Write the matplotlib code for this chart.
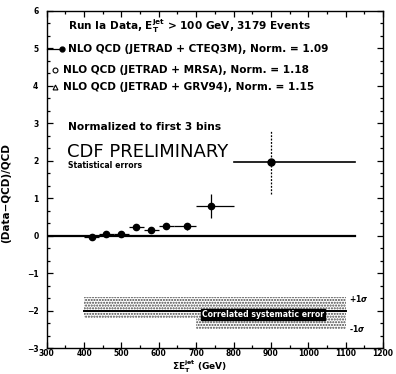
import matplotlib
matplotlib.use("Agg")
from matplotlib import pyplot as plt
from matplotlib.ticker import MultipleLocator, AutoMinorLocator

# measured ratio (Data-QCD)/QCD per sum-Et bin
et_center = [420, 460, 500, 540, 580, 620, 675, 740, 900]
bin_lo = [400, 440, 480, 520, 560, 600, 640, 700, 800]
bin_hi = [440, 480, 520, 560, 600, 640, 700, 800, 1125]
ratio = [-0.03, 0.05, 0.03, 0.22, 0.16, 0.25, 0.25, 0.79, 1.97]
stat_err = [0.05, 0.05, 0.05, 0.06, 0.07, 0.08, 0.10, 0.32, 0.85]

# correlated systematic band, drawn around -2
syst_x = [400, 700, 700, 1100]
syst_up = [0.35, 0.35, 0.35, 0.35]
syst_dn = [0.21, 0.21, 0.48, 0.48]
syst_center = -2.0

legend_lines = [
    "NLO QCD (JETRAD + CTEQ3M), Norm. = 1.09",
    "NLO QCD (JETRAD + MRSA), Norm. = 1.18",
    "NLO QCD (JETRAD + GRV94), Norm. = 1.15",
]

plt.rcParams['font.family'] = ['DejaVu Sans']
plt.rcParams['font.weight'] = 'bold'

fig = plt.figure(figsize=(3.96, 3.74), dpi=100)
ax = fig.add_axes([0.118, 0.0695, 0.849, 0.9015])

ax.set_xlim(300, 1200)
ax.set_ylim(-3, 6)

# reference line at zero
ax.plot([300, 1125], [0, 0], color='black', lw=1.6, zorder=2)

# points with bin widths and statistical errors
xerr = [[c - lo for c, lo in zip(et_center, bin_lo)],
        [hi - c for c, hi in zip(et_center, bin_hi)]]
ax.errorbar(et_center[:-1], ratio[:-1],
            xerr=[xerr[0][:-1], xerr[1][:-1]], yerr=stat_err[:-1],
            fmt='o', color='black', ms=4.5, elinewidth=0.9, capsize=0, zorder=3)
# last bin: wide horizontal bar, dotted vertical error
ax.plot([bin_lo[-1], bin_hi[-1]], [ratio[-1], ratio[-1]], color='black', lw=1.2)
ax.plot([et_center[-1], et_center[-1]],
        [ratio[-1] - stat_err[-1], ratio[-1] + stat_err[-1]],
        color='black', lw=0.9, ls=(0, (1.5, 1.2)))
ax.plot(et_center[-1], ratio[-1], 'o', color='black', ms=5, zorder=4)

# systematic band
lower = [syst_center - d for d in syst_dn]
upper = [syst_center + u for u in syst_up]
ax.fill_between(syst_x, lower, upper, facecolor='none', edgecolor='#444444',
                hatch='......', linewidth=0, zorder=1)
ax.plot([400, 1100], [syst_center, syst_center], color='black', lw=1.4, zorder=2)
ax.text(878, -2.1, "Correlated systematic error", color='white', fontsize=5.6,
        ha='center', va='center', fontweight='bold',
        bbox=dict(facecolor='black', edgecolor='black', pad=0.6), zorder=3)
ax.text(1108, -1.68, r"+1$\sigma$", fontsize=5.5, ha='left', va='center')
ax.text(1108, -2.48, r"-1$\sigma$", fontsize=5.5, ha='left', va='center')

# header texts
ax.text(357, 5.6, r"Run Ia Data, $\mathbf{E_T^{jet}}$ > 100 GeV, 3179 Events",
        fontsize=7.6, ha='left', va='center')
ax.plot([300, 341], [4.98, 4.98], color='black', lw=0.9, clip_on=False)
ax.plot(341, 4.98, 'o', color='black', ms=3.5)
ax.plot(322, 4.42, 'o', mfc='white', mec='black', ms=3.5, mew=0.8)
ax.plot(322, 3.98, '^', mfc='white', mec='black', ms=3.5, mew=0.8)
ax.text(357, 4.98, legend_lines[0], fontsize=7.6, ha='left', va='center')
ax.text(344, 4.42, legend_lines[1], fontsize=7.6, ha='left', va='center')
ax.text(344, 3.98, legend_lines[2], fontsize=7.6, ha='left', va='center')

ax.text(357, 2.9, "Normalized to first 3 bins", fontsize=7.7, ha='left', va='center')
ax.text(355, 2.22, "CDF PRELIMINARY", fontsize=13, fontweight='normal',
        ha='left', va='center')
ax.text(357, 1.87, "Statistical errors", fontsize=5.6, ha='left', va='center')

# axes styling
ax.xaxis.set_major_locator(MultipleLocator(100))
ax.xaxis.set_minor_locator(MultipleLocator(50))
ax.yaxis.set_major_locator(MultipleLocator(1))
ax.yaxis.set_minor_locator(AutoMinorLocator(3))
ax.tick_params(which='both', direction='in', top=True, right=True,
               labelsize=5.5, width=0.9)
ax.tick_params(which='major', length=4)
ax.tick_params(which='minor', length=2)
ax.tick_params(axis='x', pad=1)
ax.tick_params(axis='y', pad=6)
for lab in ax.get_xticklabels() + ax.get_yticklabels():
    lab.set_fontweight('bold')
for s in ax.spines.values():
    s.set_linewidth(1.0)

ax.set_ylabel("(Data\u2212QCD)/QCD", fontsize=7.5, fontweight='bold')
ax.yaxis.set_label_coords(-0.105, 0.46)
ax.set_xlabel(r"$\Sigma\mathbf{E_T^{jet}}$ (GeV)", fontsize=6.5, fontweight='bold')
ax.xaxis.set_label_coords(0.456, -0.031)

fig.savefig("out.png", dpi=100)
